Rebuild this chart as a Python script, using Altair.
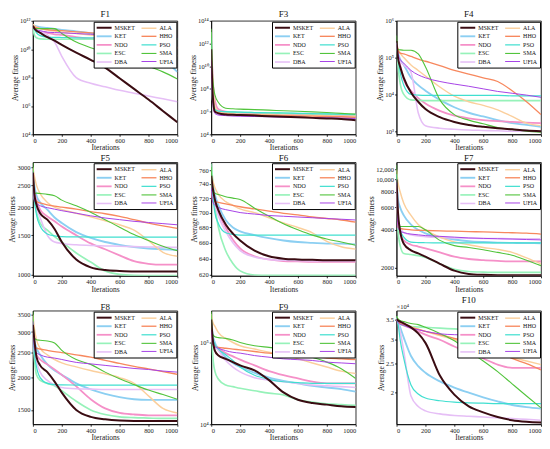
import altair as alt
import pandas as pd

FONT = "Liberation Serif"
ITERS = [0, 10, 25, 50, 100, 150, 200, 300, 400, 500, 600, 700, 800, 900, 1000]
# legend fills column by column: first column MSKET..DBA, second ALA..UFIA
ALGS = ["MSKET", "KET", "NDO", "ESC", "DBA", "ALA", "HHO", "PSO", "SMA", "UFIA"]
COLORS = ["#3a0c12", "#8ccff2", "#f590c8", "#96f2b9", "#e6bff6",
          "#fbcf9c", "#f7885e", "#40dfd0", "#52c43c", "#a743e6"]
WIDTHS = [2.0, 1, 1, 1, 1, 1, 1, 1, 1, 1.6]

# F1: log10 of average fitness
F1_LOG = {
    "MSKET": [11.65, 11.45, 11.3, 11.15, 10.85, 10.6, 10.3, 9.75, 9.25, 8.7, 7.95, 7.2, 6.45, 5.65, 4.85],
    "ALA": [11.75, 11.65, 11.55, 11.45, 11.35, 11.27, 11.2, 11.1, 11.0, 10.9, 10.8, 10.65, 10.5, 10.1, 9.5],
    "KET": [11.7, 11.65, 11.6, 11.55, 11.5, 11.42, 11.35, 11.25, 11.12, 10.97, 10.75, 10.45, 10.0, 9.3, 8.4],
    "HHO": [11.65, 11.55, 11.5, 11.45, 11.38, 11.33, 11.3, 11.22, 11.15, 11.1, 11.05, 10.95, 10.85, 10.5, 10.05],
    "NDO": [11.6, 11.45, 11.35, 11.25, 11.15, 11.05, 11.0, 10.85, 10.72, 10.62, 10.52, 10.42, 10.32, 10.22, 10.1],
    "PSO": [11.6, 11.4, 11.15, 10.95, 10.85, 10.83, 10.82, 10.8, 10.8, 10.8, 10.78, 10.78, 10.77, 10.76, 10.75],
    "ESC": [11.5, 11.0, 10.8, 10.72, 10.7, 10.7, 10.7, 10.7, 10.7, 10.7, 10.7, 10.7, 10.7, 10.7, 10.7],
    "SMA": [11.6, 11.5, 11.45, 11.45, 11.45, 11.45, 11.1, 10.5, 10.1, 9.8, 9.5, 9.2, 8.8, 8.4, 7.9],
    "DBA": [11.7, 11.55, 11.4, 11.25, 11.0, 10.5, 9.5, 8.0, 7.6, 7.35, 7.1, 6.9, 6.7, 6.5, 6.3],
    "UFIA": [11.6, 11.45, 11.35, 11.3, 11.2, 11.17, 11.15, 11.1, 11.05, 11.02, 11.0, 10.97, 10.95, 10.9, 10.85],
}

# F3: log10 of average fitness
F3_LOG = {
    "MSKET": [11.5, 7.5, 6.0, 5.85, 5.75, 5.72, 5.7, 5.65, 5.6, 5.55, 5.5, 5.45, 5.4, 5.35, 5.25],
    "ALA": [12.0, 9.0, 6.5, 6.0, 5.85, 5.8, 5.78, 5.75, 5.72, 5.7, 5.67, 5.65, 5.62, 5.6, 5.57],
    "KET": [12.0, 8.5, 6.3, 6.0, 5.95, 5.92, 5.9, 5.87, 5.85, 5.83, 5.8, 5.78, 5.75, 5.72, 5.7],
    "HHO": [11.5, 8.0, 6.1, 5.9, 5.8, 5.75, 5.72, 5.7, 5.67, 5.65, 5.62, 5.6, 5.57, 5.55, 5.5],
    "NDO": [11.8, 9.0, 7.0, 6.2, 6.0, 5.95, 5.9, 5.85, 5.82, 5.8, 5.77, 5.75, 5.72, 5.7, 5.65],
    "PSO": [12.5, 7.5, 6.2, 6.05, 6.0, 5.98, 5.95, 5.92, 5.9, 5.88, 5.85, 5.82, 5.8, 5.78, 5.75],
    "ESC": [13.0, 7.0, 6.1, 6.0, 5.98, 5.95, 5.92, 5.9, 5.88, 5.85, 5.82, 5.8, 5.78, 5.75, 5.72],
    "SMA": [13.3, 9.0, 7.5, 6.8, 6.3, 6.25, 6.22, 6.18, 6.13, 6.08, 6.03, 5.98, 5.92, 5.85, 5.78],
    "DBA": [11.0, 7.0, 5.9, 5.75, 5.68, 5.65, 5.62, 5.6, 5.57, 5.55, 5.52, 5.5, 5.47, 5.45, 5.42],
    "UFIA": [10.5, 7.0, 5.85, 5.7, 5.65, 5.62, 5.6, 5.57, 5.55, 5.52, 5.5, 5.47, 5.45, 5.42, 5.4],
}

# F4: log10 of average fitness
F4_LOG = {
    "MSKET": [5.45, 5.0, 4.75, 4.45, 4.05, 3.8, 3.6, 3.38, 3.25, 3.17, 3.12, 3.08, 3.05, 3.02, 3.0],
    "ALA": [5.4, 5.25, 5.12, 5.0, 4.8, 4.65, 4.5, 4.2, 3.95, 3.8, 3.7, 3.58, 3.4, 3.22, 3.15],
    "KET": [5.4, 5.15, 4.95, 4.8, 4.45, 4.25, 4.1, 3.85, 3.65, 3.5, 3.4, 3.3, 3.22, 3.17, 3.12],
    "HHO": [5.35, 5.2, 5.12, 5.1, 5.03, 4.96, 4.9, 4.78, 4.65, 4.55, 4.45, 4.35, 4.1, 3.8, 3.45],
    "NDO": [5.4, 5.05, 4.8, 4.4, 4.1, 3.9, 3.75, 3.55, 3.42, 3.35, 3.3, 3.27, 3.25, 3.23, 3.22],
    "PSO": [5.4, 5.0, 4.6, 4.25, 4.0, 3.98, 3.97, 3.97, 3.97, 3.97, 3.97, 3.97, 3.96, 3.96, 3.96],
    "ESC": [5.4, 4.8, 4.3, 4.0, 3.85, 3.84, 3.83, 3.83, 3.83, 3.83, 3.83, 3.83, 3.83, 3.83, 3.83],
    "SMA": [5.6, 5.22, 5.21, 5.2, 5.2, 5.1, 4.75, 3.85, 3.45, 3.3, 3.2, 3.1, 3.05, 3.0, 2.97],
    "DBA": [5.4, 5.1, 4.9, 4.8, 4.6, 3.5, 3.15, 3.08, 3.05, 3.03, 3.02, 3.01, 3.0, 3.0, 2.99],
    "UFIA": [5.4, 5.1, 4.95, 4.85, 4.65, 4.53, 4.45, 4.35, 4.28, 4.22, 4.15, 4.08, 4.03, 3.98, 3.92],
}

# F5: average fitness
F5 = {
    "MSKET": [2850, 2300, 2050, 1880, 1760, 1600, 1400, 1170, 1080, 1050, 1040, 1035, 1035, 1035, 1035],
    "ALA": [3000, 2750, 2500, 2300, 2100, 2000, 1950, 1880, 1810, 1740, 1670, 1580, 1420, 1260, 1210],
    "KET": [2900, 2500, 2250, 2100, 1950, 1800, 1700, 1550, 1460, 1400, 1360, 1330, 1310, 1300, 1290],
    "HHO": [2800, 2200, 2120, 2090, 2050, 2020, 2000, 1960, 1910, 1870, 1820, 1760, 1700, 1650, 1610],
    "NDO": [2900, 2350, 2150, 1950, 1820, 1730, 1640, 1500, 1380, 1300, 1220, 1150, 1120, 1110, 1110],
    "PSO": [2900, 2200, 1850, 1650, 1520, 1490, 1480, 1475, 1473, 1472, 1471, 1470, 1470, 1470, 1470],
    "ESC": [3000, 2200, 1900, 1700, 1580, 1480, 1400, 1250, 1140, 1040, 1005, 995, 993, 992, 992],
    "SMA": [3150, 2300, 2310, 2300, 2280, 2250, 2150, 2030, 1900, 1760, 1630, 1510, 1420, 1340, 1280],
    "DBA": [2900, 2250, 2000, 1800, 1500, 1400, 1380, 1360, 1350, 1345, 1340, 1335, 1330, 1328, 1325],
    "UFIA": [2850, 2150, 2080, 2030, 1990, 1960, 1930, 1880, 1830, 1790, 1760, 1730, 1710, 1690, 1670],
}

# F6: average fitness
F6 = {
    "MSKET": [752, 735, 718, 703, 684, 672, 663, 650, 643, 640, 639, 638.5, 638, 638, 638],
    "ALA": [752, 745, 735, 725, 715, 710, 705, 700, 693, 686, 680, 673, 662, 655, 652],
    "KET": [752, 740, 725, 710, 690, 680, 675, 670, 666, 663, 661, 660, 659, 659, 658],
    "HHO": [730, 716, 715, 714, 712, 710, 708, 705, 702, 699, 697, 694, 692, 690, 687],
    "NDO": [750, 732, 715, 700, 680, 664, 653, 643, 639, 637, 636.5, 636, 636, 636, 636],
    "PSO": [752, 725, 700, 685, 673, 671, 670, 670, 670, 670, 670, 670, 670, 670, 670],
    "ESC": [770, 745, 710, 680, 650, 634, 625, 620, 619.5, 619.5, 619.5, 619.5, 619.5, 619.5, 619.5],
    "SMA": [765, 730, 727, 725, 722, 720, 718, 706, 695, 685, 677, 670, 665, 661, 657],
    "DBA": [750, 730, 712, 695, 675, 660, 650, 642, 639, 638, 637.5, 637, 637, 637, 637],
    "UFIA": [735, 715, 710, 707, 704, 702, 700, 698, 696, 695, 694, 693, 692, 691, 690],
}

# F7: average fitness
F7 = {
    "MSKET": [10000, 5500, 3900, 3100, 2750, 2600, 2450, 2150, 1900, 1790, 1760, 1750, 1750, 1750, 1750],
    "ALA": [12000, 9500, 8000, 6500, 5200, 4400, 4000, 3500, 3200, 3050, 2900, 2800, 2650, 2400, 2150],
    "KET": [11000, 7000, 6000, 5200, 4400, 4000, 3750, 3500, 3350, 3250, 3200, 3170, 3150, 3140, 3130],
    "HHO": [9000, 4200, 4100, 4050, 4000, 3970, 3950, 3920, 3900, 3870, 3850, 3820, 3790, 3760, 3700],
    "NDO": [10000, 5000, 3800, 3300, 3050, 2950, 2850, 2650, 2450, 2350, 2300, 2270, 2250, 2250, 2250],
    "PSO": [11000, 5000, 4000, 3500, 3200, 3170, 3160, 3150, 3150, 3150, 3150, 3150, 3150, 3150, 3150],
    "ESC": [9000, 4000, 3000, 2600, 2550, 2500, 2420, 2150, 1950, 1870, 1850, 1840, 1840, 1840, 1840],
    "SMA": [13000, 5000, 4250, 4250, 4250, 4250, 4000, 3300, 3000, 2900, 2780, 2650, 2520, 2300, 2080],
    "DBA": [10000, 5000, 4200, 3800, 3650, 3570, 3530, 3480, 3450, 3430, 3420, 3410, 3400, 3400, 3400],
    "UFIA": [9500, 4200, 3900, 3800, 3700, 3650, 3600, 3550, 3500, 3450, 3420, 3400, 3380, 3350, 3330],
}

# F8: average fitness
F8 = {
    "MSKET": [3200, 2800, 2400, 2230, 2100, 1930, 1750, 1500, 1410, 1380, 1365, 1360, 1360, 1360, 1360],
    "ALA": [3500, 3100, 2800, 2600, 2450, 2350, 2280, 2200, 2130, 2070, 2000, 1900, 1700, 1520, 1460],
    "KET": [3200, 2800, 2600, 2450, 2250, 2130, 2050, 1900, 1800, 1730, 1680, 1650, 1640, 1640, 1640],
    "HHO": [3100, 2650, 2600, 2580, 2550, 2520, 2500, 2450, 2400, 2330, 2270, 2210, 2160, 2110, 2060],
    "NDO": [3000, 2600, 2450, 2350, 2250, 2150, 2050, 1850, 1650, 1520, 1460, 1440, 1430, 1430, 1430],
    "PSO": [3100, 2500, 2200, 2000, 1900, 1880, 1875, 1872, 1870, 1870, 1870, 1870, 1870, 1870, 1870],
    "ESC": [3000, 2400, 2050, 1950, 1900, 1860, 1780, 1620, 1500, 1440, 1410, 1400, 1395, 1390, 1390],
    "SMA": [3600, 2850, 2800, 2790, 2770, 2720, 2550, 2350, 2250, 2100, 1980, 1880, 1790, 1720, 1650],
    "DBA": [3000, 2500, 2300, 2100, 1950, 1870, 1830, 1810, 1805, 1800, 1800, 1800, 1800, 1800, 1800],
    "UFIA": [3300, 2600, 2500, 2450, 2400, 2380, 2350, 2290, 2260, 2230, 2200, 2170, 2150, 2120, 2100],
}

# F9: log10 of average fitness
F9_LOG = {
    "MSKET": [5.28, 5.05, 4.9, 4.84, 4.8, 4.76, 4.72, 4.66, 4.54, 4.39, 4.3, 4.26, 4.24, 4.22, 4.21],
    "ALA": [5.35, 5.25, 5.2, 5.12, 5.05, 5.0, 4.96, 4.92, 4.88, 4.85, 4.8, 4.75, 4.7, 4.65, 4.62],
    "KET": [5.3, 5.1, 5.0, 4.92, 4.82, 4.75, 4.7, 4.63, 4.57, 4.53, 4.5, 4.47, 4.45, 4.43, 4.4],
    "HHO": [5.2, 4.98, 4.95, 4.94, 4.93, 4.92, 4.91, 4.89, 4.87, 4.86, 4.84, 4.83, 4.81, 4.8, 4.79],
    "NDO": [5.3, 5.02, 4.97, 4.93, 4.87, 4.83, 4.79, 4.72, 4.65, 4.6, 4.56, 4.52, 4.5, 4.5, 4.5],
    "PSO": [5.3, 5.05, 4.98, 4.92, 4.85, 4.78, 4.7, 4.6, 4.55, 4.52, 4.51, 4.5, 4.5, 4.5, 4.5],
    "ESC": [5.35, 4.85, 4.65, 4.55, 4.48, 4.46, 4.44, 4.41, 4.38, 4.36, 4.3, 4.27, 4.25, 4.24, 4.23],
    "SMA": [5.38, 5.1, 5.07, 5.06, 5.05, 5.03, 5.0, 4.96, 4.94, 4.92, 4.88, 4.82, 4.76, 4.68, 4.56],
    "DBA": [5.3, 5.0, 4.95, 4.9, 4.78, 4.7, 4.64, 4.57, 4.54, 4.52, 4.5, 4.48, 4.47, 4.46, 4.45],
    "UFIA": [5.15, 4.98, 4.95, 4.93, 4.9, 4.88, 4.87, 4.84, 4.82, 4.8, 4.79, 4.78, 4.76, 4.75, 4.74],
}

# F10: average fitness in units of 10^4
F10_E4 = {
    "MSKET": [3.52, 3.48, 3.45, 3.4, 3.3, 3.15, 2.93, 2.28, 1.97, 1.8, 1.72, 1.66, 1.62, 1.6, 1.59],
    "ALA": [3.55, 3.48, 3.44, 3.4, 3.32, 3.26, 3.2, 3.1, 3.0, 2.92, 2.83, 2.72, 2.62, 2.55, 2.48],
    "KET": [3.55, 3.45, 3.3, 3.05, 2.65, 2.45, 2.33, 2.18, 2.08, 2.0, 1.93, 1.87, 1.82, 1.79, 1.77],
    "HHO": [3.5, 3.45, 3.4, 3.37, 3.3, 3.25, 3.2, 3.12, 3.03, 2.95, 2.85, 2.75, 2.6, 2.5, 2.38],
    "NDO": [3.5, 3.45, 3.4, 3.35, 3.28, 3.2, 3.12, 3.0, 2.85, 2.72, 2.6, 2.48, 2.42, 2.42, 2.42],
    "PSO": [3.55, 3.4, 3.0, 2.6, 2.12, 1.98, 1.92, 1.88, 1.86, 1.85, 1.845, 1.84, 1.84, 1.84, 1.84],
    "ESC": [3.6, 3.45, 3.38, 3.35, 3.32, 3.31, 3.3, 3.28, 3.26, 3.24, 3.22, 3.2, 3.15, 3.05, 2.85],
    "SMA": [3.6, 3.52, 3.48, 3.45, 3.4, 3.37, 3.3, 3.15, 2.98, 2.75, 2.55, 2.35, 2.14, 1.95, 1.78],
    "DBA": [3.55, 3.45, 3.2, 2.75, 1.95, 1.8, 1.74, 1.7, 1.68, 1.67, 1.66, 1.65, 1.64, 1.63, 1.62],
    "UFIA": [3.5, 3.42, 3.38, 3.35, 3.28, 3.24, 3.2, 3.14, 3.12, 3.11, 3.1, 3.1, 3.09, 3.08, 3.05],
}

SUP = {"0": "⁰", "1": "¹", "2": "²", "3": "³", "4": "⁴",
       "5": "⁵", "6": "⁶", "7": "⁷", "8": "⁸", "9": "⁹"}
PW, PH = 145, 114
DRAW_ORDER = [a for a in ALGS if a != "MSKET"] + ["MSKET"]  # MSKET on top


def table(series, log=False):
    rows = []
    for alg in DRAW_ORDER:
        for it, v in zip(ITERS, series[alg]):
            rows.append({"alg": alg, "iter": it, "value": 10 ** v if log else v})
    return pd.DataFrame(rows)


def pow_expr(exps):
    parts = []
    for e in exps:
        s = "10" + "".join(SUP[c] for c in str(e))
        parts.append(f"round(log(datum.value)/LN10) == {e} ? '{s}' : ")
    return "".join(parts) + "''"


def legend():
    return alt.Legend(
        title=None, orient="top-right", offset=1, columns=2,
        symbolType="M-1,0H4", symbolSize=36, labelFont=FONT, labelFontSize=6,
        labelColor="#111", columnPadding=3, rowPadding=0.6, padding=2,
        labelOffset=11, strokeColor="black", fillColor="white",
        cornerRadius=0, labelLimit=60,
    )


def panel(title, df, ydom, yvals, label_expr=None, fmt=None, note=None):
    ax = dict(values=yvals, title="Average fitness", titlePadding=0)
    if label_expr:
        ax["labelExpr"] = label_expr
    if fmt:
        ax["format"] = fmt
    lines = alt.Chart(df).mark_line(clip=True, interpolate="monotone").encode(
        x=alt.X("iter:Q", scale=alt.Scale(domain=[0, 1000], nice=False),
                axis=alt.Axis(values=[0, 200, 400, 600, 800, 1000], format="d",
                              title="Iterations", titlePadding=0)),
        y=alt.Y("value:Q", scale=alt.Scale(type="log", domain=ydom, nice=False),
                axis=alt.Axis(**ax)),
        color=alt.Color("alg:N", scale=alt.Scale(domain=ALGS, range=COLORS), legend=legend()),
        strokeWidth=alt.StrokeWidth("alg:N", scale=alt.Scale(domain=ALGS, range=WIDTHS), legend=legend()),
    )
    ch = lines
    if note:
        txt = alt.Chart(pd.DataFrame({"t": [note]})).mark_text(
            align="left", baseline="bottom", font=FONT, fontSize=6.5, color="#222"
        ).encode(text="t:N", x=alt.value(0), y=alt.value(-1))
        ch = alt.layer(lines, txt)
    return ch.properties(width=PW, height=PH, title=title)


p1 = panel("F1", table(F1_LOG, True), [1e4, 1e12], [1e4, 1e6, 1e8, 1e10, 1e12], pow_expr([4, 6, 8, 10, 12]))
p3 = panel("F3", table(F3_LOG, True), [1e4, 1e14], [1e4, 1e6, 1e8, 1e10, 1e12, 1e14], pow_expr([4, 6, 8, 10, 12, 14]))
p4 = panel("F4", table(F4_LOG, True), [820, 1e6], [1e3, 1e4, 1e5, 1e6], pow_expr([3, 4, 5, 6]))
p5 = panel("F5", table(F5), [990, 3170], [1000, 1500, 2000, 2500, 3000], fmt="d")
p6 = panel("F6", table(F6), [619, 772], [620, 640, 660, 680, 700, 720, 740, 760], fmt="d")
p7 = panel("F7", table(F7), [1730, 13700], [2000, 4000, 6000, 8000, 10000, 12000],
           label_expr="datum.value >= 10000 ? format(datum.value, ',') : format(datum.value, 'd')")
p8 = panel("F8", table(F8), [1320, 3630], [1500, 2000, 2500, 3000, 3500], fmt="d")
p9 = panel("F9", table(F9_LOG, True), [1e4, 2.45e5], [1e4, 1e5], pow_expr([4, 5]))
p10 = panel("F10", table(F10_E4), [1.57, 3.75], [2, 2.5, 3, 3.5], fmt="~g", note="×10⁴")

chart = alt.concat(p1, p3, p4, p5, p6, p7, p8, p9, p10, columns=3,
                   spacing={"row": 1, "column": 10}).resolve_scale(
    color="independent", strokeWidth="independent"
).resolve_legend(
    color="independent", strokeWidth="independent"
).configure(
    font=FONT, padding={"top": 0, "left": 0, "right": 0, "bottom": 0}
).configure_view(
    stroke="black", strokeWidth=0.8
).configure_axis(
    grid=False, labelFont=FONT, titleFont=FONT, labelFontSize=6.5, titleFontSize=7.5,
    titleFontWeight="normal", labelColor="#222", titleColor="#222",
    domainColor="black", tickColor="black", tickSize=2, labelPadding=1, titlePadding=1,
    domainWidth=0.8, tickWidth=0.8,
).configure_title(
    font=FONT, fontSize=9, fontWeight="normal", color="#111", offset=-1
)

chart.save("out.html", embed_options={"renderer": "svg", "actions": False})
